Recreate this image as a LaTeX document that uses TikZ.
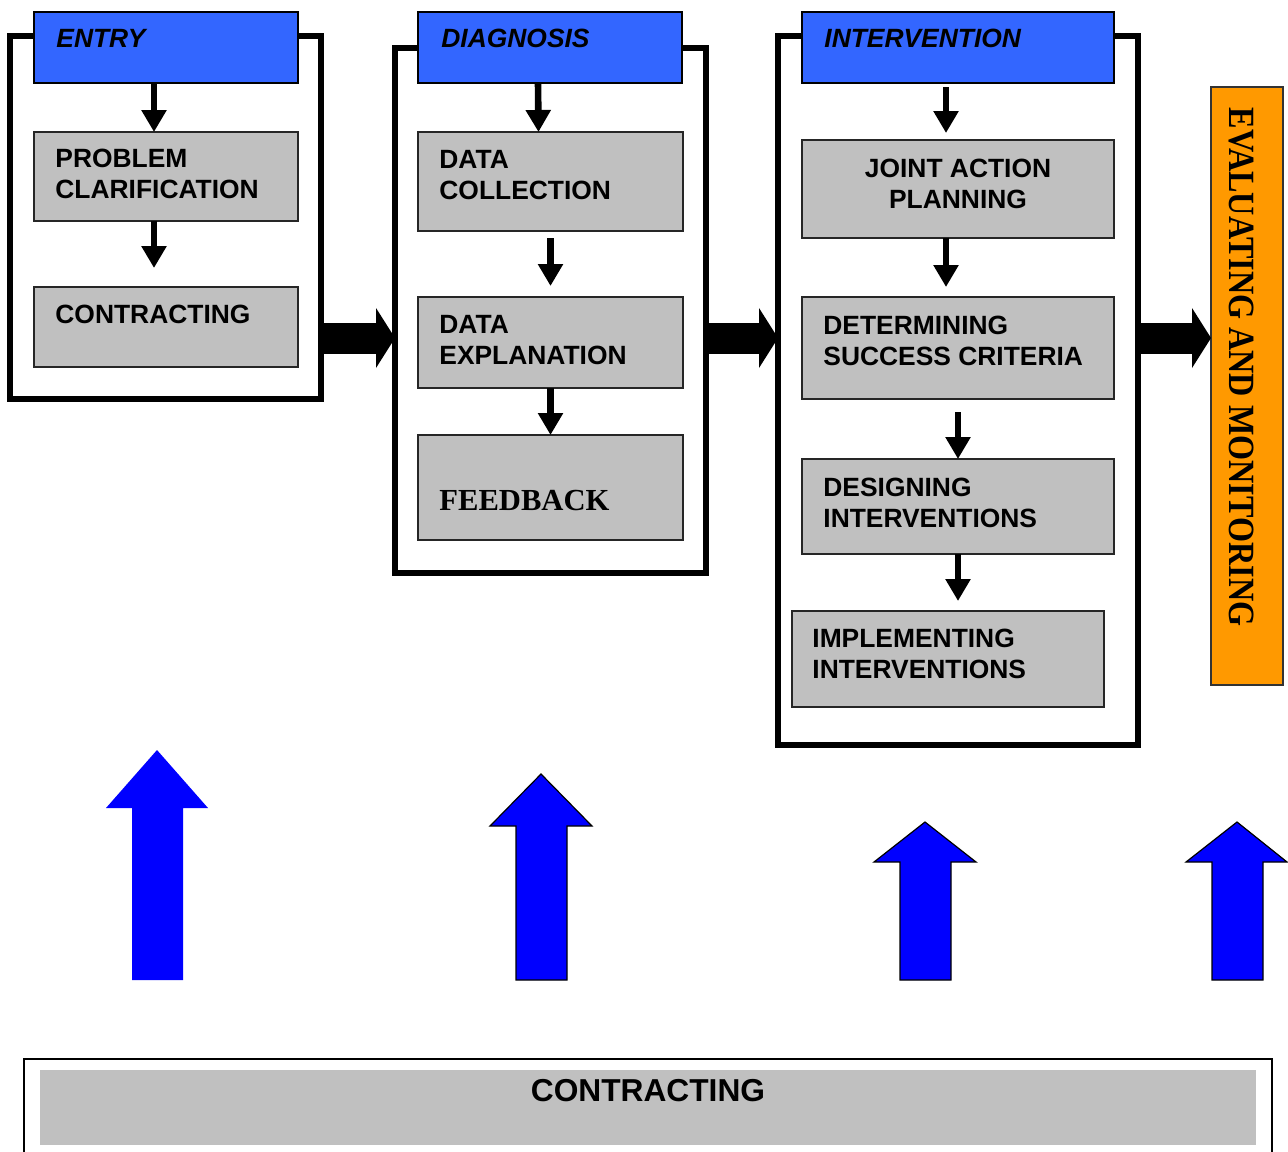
\documentclass[tikz,border=0pt]{standalone}
\usepackage{fontspec}
\setmainfont{Liberation Sans}
\newfontfamily\serifbf{Liberation Serif}
\usetikzlibrary{arrows.meta,calc}
\definecolor{hdrblue}{HTML}{3366FF}
\definecolor{boxgray}{HTML}{C0C0C0}
\definecolor{evalorange}{HTML}{FF9900}
\definecolor{arrblue}{HTML}{0000FF}
\begin{document}
\begin{tikzpicture}[x=0.5pt,y=-0.5pt,
  sz/.style 2 args={minimum width=#1*0.5pt, minimum height=#2*0.5pt},
  frame/.style={draw=black, line width=2.6pt, anchor=north west, inner sep=0pt, outer sep=0pt},
  hdr/.style={draw=black, fill=hdrblue, line width=0.8pt, anchor=north west, inner sep=0pt, outer sep=0pt},
  gbox/.style={draw=black!85, fill=boxgray, line width=0.9pt, anchor=north west, inner sep=0pt, outer sep=0pt},
  lbl/.style={anchor=base west, inner sep=0pt, align=left, font=\bfseries\fontsize{13.2}{15.5}\selectfont},
  hlbl/.style={anchor=base west, inner sep=0pt, font=\bfseries\itshape\fontsize{13.2}{15.5}\selectfont},
  arr/.style={line width=3.3pt, -{Triangle[width=12pt,length=11pt]}},
  bigarr/.style={line width=15.5pt, -{Triangle[width=30pt,length=9.5pt,line width=0pt]}},
  uparr/.style={fill=arrblue, draw=black, line width=0.6pt, line join=miter},
]
\useasboundingbox (0,0) rectangle (1288,1151);

% group frames
\node[frame, sz={311}{363}] (f1) at (10,36) {};
\node[frame, sz={311}{525}] (f2) at (395,48) {};
\node[frame, sz={360}{709}] (f3) at (778,36) {};

% headers
\node[hdr, sz={264}{71}] (h1) at (34,12) {};
\node[hlbl] (h1t) at (56,47) {ENTRY};
\node[hdr, sz={264}{71}] (h2) at (418,12) {};
\node[hlbl] (h2t) at (441,47) {DIAGNOSIS};
\node[hdr, sz={312}{71}] (h3) at (802,12) {};
\node[hlbl] (h3t) at (824,47) {INTERVENTION};

% entry boxes (multi-line text: base = last line's baseline)
\node[gbox, sz={264}{89}] (pc) at (34,132) {};
\node[lbl] (pct) at (55,198) {PROBLEM\\CLARIFICATION};
\node[gbox, sz={264}{80}] (ct) at (34,287) {};
\node[lbl] (ctt) at (55,323) {CONTRACTING};

% diagnosis boxes
\node[gbox, sz={265}{99}] (dc) at (418,132) {};
\node[lbl] (dct) at (439,199) {DATA\\COLLECTION};
\node[gbox, sz={265}{91}] (de) at (418,297) {};
\node[lbl] (det) at (439,364) {DATA\\EXPLANATION};
\node[gbox, sz={265}{105}] (fb) at (418,435) {};
\node[anchor=base west, inner sep=0pt, font=\serifbf\bfseries\fontsize{15.3}{18}\selectfont] (fbt) at (439,510) {FEEDBACK};

% intervention boxes
\node[gbox, sz={312}{98}] (jap) at (802,140) {};
\node[lbl, align=center, anchor=base] (japt) at (958,208) {JOINT ACTION\\PLANNING};
\node[gbox, sz={312}{102}] (dsc) at (802,297) {};
\node[lbl] (dsct) at (823,365) {DETERMINING\\SUCCESS CRITERIA};
\node[gbox, sz={312}{95}] (di) at (802,459) {};
\node[lbl] (dit) at (823,527) {DESIGNING\\INTERVENTIONS};
\node[gbox, sz={312}{96}] (ii) at (792,611) {};
\node[lbl] (iit) at (812,678) {IMPLEMENTING\\INTERVENTIONS};

% evaluating box
\node[draw=black!80, fill=evalorange, line width=0.8pt, anchor=north west, sz={72}{598}, inner sep=0pt, outer sep=0pt] (ev) at (1211,87) {};
\node[rotate=-90, inner sep=0pt, font=\serifbf\bfseries\fontsize{18.5}{20}\selectfont] (evt) at (1241,367) {\scalebox{0.87}[1]{EVALUATING AND MONITORING}};

% small arrows
\draw[arr] ([xshift=-6pt]h1.south) -- ([xshift=-6pt]pc.north);
\draw[arr] ([xshift=-6pt]pc.south) -- ([xshift=-6pt,yshift=9.5pt]ct.north);
\draw[arr] ([xshift=-6pt]h2.south) -- ([xshift=-6pt]dc.north);
\draw[arr] ([yshift=-3.5pt]dc.south) -- ([yshift=5.5pt]de.north);
\draw[arr] (de.south) -- (fb.north);
\draw[arr] ([xshift=-6pt,yshift=-2pt]h3.south) -- ([xshift=-6pt,yshift=3.5pt]jap.north);
\draw[arr] ([xshift=-6pt]jap.south) -- ([xshift=-6pt,yshift=5pt]dsc.north);
\draw[arr] ([yshift=-6.5pt]dsc.south) -- (di.north);
\draw[arr] (di.south) -- ($(di.south |- ii.north)+(0,-10)$);

% big arrows between groups
\coordinate (ay) at (0,338);
\draw[bigarr] (f1.east |- ay) -- (f2.west |- ay);
\draw[bigarr] (f2.east |- ay) -- (f3.west |- ay);
\draw[bigarr] (f3.east |- ay) -- (ev.west |- ay);

% blue up arrows
\fill[arrblue] (132,980) -- (132,808) -- (106,808) -- (157,750) -- (208,808) -- (183,808) -- (183,980) -- cycle;
\filldraw[uparr] (516,980) -- (516,826) -- (490,826) -- (541,774) -- (592,826) -- (567,826) -- (567,980) -- cycle;
\filldraw[uparr] (900,980) -- (900,862) -- (874,862) -- (925,822) -- (976,862) -- (951,862) -- (951,980) -- cycle;
\filldraw[uparr] (1212,980) -- (1212,862) -- (1186,862) -- (1237,822) -- (1287,862) -- (1263,862) -- (1263,980) -- cycle;

% bottom contracting band
\node[draw=black, line width=0.7pt, anchor=north west, sz={1248}{120}, inner sep=0pt, outer sep=0pt] (cf) at (24,1059) {};
\draw[line width=1.1pt] (cf.north west) -- (cf.north east);
\node[fill=boxgray, anchor=north west, sz={1216}{75}, inner sep=0pt, outer sep=0pt] (cb) at (40,1070) {};
\node[anchor=base, inner sep=0pt, font=\bfseries\fontsize{15.85}{18}\selectfont] (cbt) at (648,1101) {CONTRACTING};
\end{tikzpicture}
\end{document}
